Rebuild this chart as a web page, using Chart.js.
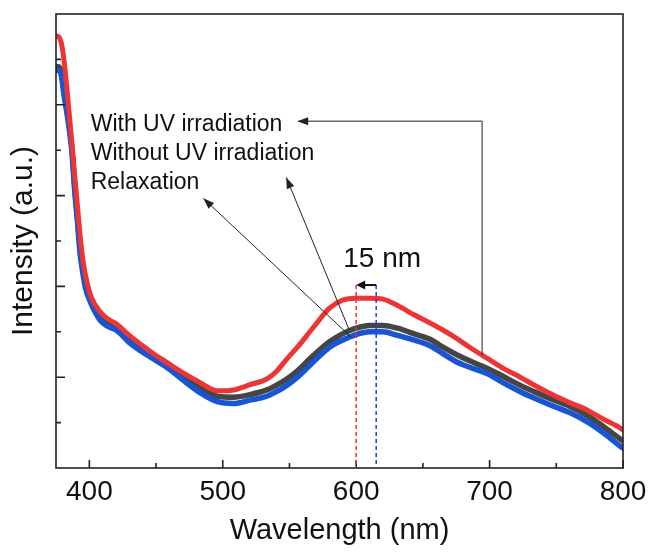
<!DOCTYPE html>
<html>
<head>
<meta charset="utf-8">
<script src="https://cdn.jsdelivr.net/npm/chart.js@4.4.0/dist/chart.umd.min.js"></script>
<style>
  html, body { margin: 0; padding: 0; background: #fff; }
</style>
</head>
<body>
<canvas id="plChart" width="650" height="553"></canvas>
<script>
// emission spectra
const wavelength = [375, 377, 379, 381, 384, 387, 389, 391, 393, 395, 397, 401, 408, 414, 420, 424, 430, 446, 458, 470,
  483, 496, 508, 521, 533, 540, 548, 556, 568, 580, 590, 600, 610, 620, 631, 643, 655, 665, 675, 685,
  698, 710, 723, 735, 748, 760, 773, 785, 798, 800];
const withUV = [4.76, 4.75, 4.68, 4.49, 4.05, 3.56, 3.23, 2.90, 2.57, 2.31, 2.13, 1.90, 1.72, 1.64, 1.59, 1.54, 1.46, 1.28, 1.16, 1.05,
  0.94, 0.85, 0.86, 0.92, 0.98, 1.06, 1.20, 1.33, 1.55, 1.76, 1.85, 1.87, 1.87, 1.86, 1.79, 1.69, 1.60, 1.52, 1.43, 1.33,
  1.21, 1.10, 1.00, 0.90, 0.80, 0.72, 0.64, 0.54, 0.44, 0.42];
const withoutUV = [4.42, 4.42, 4.36, 4.15, 3.87, 3.51, 3.10, 2.77, 2.41, 2.20, 2.03, 1.86, 1.67, 1.60, 1.56, 1.51, 1.42, 1.26, 1.16, 1.02,
  0.88, 0.79, 0.78, 0.81, 0.86, 0.91, 0.98, 1.07, 1.24, 1.39, 1.48, 1.54, 1.57, 1.57, 1.54, 1.48, 1.42, 1.33, 1.25, 1.18,
  1.10, 1.01, 0.91, 0.83, 0.75, 0.68, 0.58, 0.46, 0.32, 0.30];
const relaxation = [4.38, 4.38, 4.32, 4.11, 3.83, 3.47, 3.06, 2.73, 2.37, 2.16, 1.99, 1.82, 1.63, 1.56, 1.52, 1.47, 1.38, 1.22, 1.11, 0.97,
  0.83, 0.73, 0.71, 0.75, 0.79, 0.84, 0.91, 1.00, 1.17, 1.33, 1.41, 1.47, 1.50, 1.50, 1.46, 1.41, 1.35, 1.26, 1.17, 1.11,
  1.04, 0.94, 0.84, 0.76, 0.68, 0.61, 0.51, 0.39, 0.24, 0.22];

const seriesNames = ['With UV irradiation', 'Without UV irradiation', 'Relaxation'];
const xTicks = [400, 500, 600, 700, 800];
const xMinorTicks = [450, 550, 650, 750];
const yTicks = [1, 2, 3, 4];
const yMinorTicks = [0.5, 1.5, 2.5, 3.5, 4.5];
const peakWith = 600;
const peakWithout = 615;

const FONT = '"Liberation Sans", Arial, sans-serif';
Chart.defaults.font.family = FONT;
Chart.defaults.color = '#111';

function pts(ys) {
  return wavelength.map((w, i) => ({ x: w, y: ys[i] }));
}

function arrowHead(ctx, x1, y1, x2, y2, len, half) {
  const a = Math.atan2(y2 - y1, x2 - x1);
  ctx.beginPath();
  ctx.moveTo(x2, y2);
  ctx.lineTo(x2 - len * Math.cos(a) + half * Math.sin(a), y2 - len * Math.sin(a) - half * Math.cos(a));
  ctx.lineTo(x2 - len * Math.cos(a) - half * Math.sin(a), y2 - len * Math.sin(a) + half * Math.cos(a));
  ctx.closePath();
  ctx.fill();
}

// box + inward ticks
const framePlugin = {
  id: 'frame',
  afterDatasetsDraw(chart) {
    const { ctx, chartArea: a, scales: { x, y } } = chart;
    ctx.save();
    ctx.strokeStyle = '#222';
    ctx.lineWidth = 1.6;
    ctx.strokeRect(a.left, a.top, a.right - a.left, a.bottom - a.top);
    ctx.beginPath();
    xTicks.forEach(v => { const p = x.getPixelForValue(v); ctx.moveTo(p, a.bottom); ctx.lineTo(p, a.bottom - 8); });
    xMinorTicks.forEach(v => { const p = x.getPixelForValue(v); ctx.moveTo(p, a.bottom); ctx.lineTo(p, a.bottom - 5); });
    yTicks.forEach(v => { const p = y.getPixelForValue(v); ctx.moveTo(a.left, p); ctx.lineTo(a.left + 9, p); });
    yMinorTicks.forEach(v => { const p = y.getPixelForValue(v); ctx.moveTo(a.left, p); ctx.lineTo(a.left + 5, p); });
    ctx.stroke();
    ctx.restore();
  }
};

// labels, arrows and the 15 nm shift marker
const notesPlugin = {
  id: 'notes',
  afterDatasetsDraw(chart) {
    const { ctx, scales: { x, y } } = chart;
    const X = v => x.getPixelForValue(v);
    const Y = v => y.getPixelForValue(v);
    ctx.save();

    ctx.font = '23px ' + FONT;
    ctx.fillStyle = '#111';
    ctx.textAlign = 'left';
    ctx.textBaseline = 'alphabetic';
    ctx.fillText(seriesNames[0], X(401), Y(3.71));
    ctx.fillText(seriesNames[1], X(401), Y(3.39));
    ctx.fillText(seriesNames[2], X(401), Y(3.07));

    ctx.strokeStyle = '#222';
    ctx.fillStyle = '#222';
    ctx.lineWidth = 1;
    // with UV: elbow arrow
    ctx.beginPath();
    ctx.moveTo(X(694.4), Y(1.245));
    ctx.lineTo(X(694.4), Y(3.82));
    ctx.lineTo(X(557), Y(3.82));
    ctx.stroke();
    arrowHead(ctx, X(694.4), Y(3.82), X(555.8), Y(3.82), 11, 4);
    // without UV
    ctx.beginPath();
    ctx.moveTo(X(594.8), Y(1.52));
    ctx.lineTo(X(547.6), Y(3.20));
    ctx.stroke();
    arrowHead(ctx, X(594.8), Y(1.52), X(547.6), Y(3.20), 11, 4);
    // relaxation
    ctx.beginPath();
    ctx.moveTo(X(596.3), Y(1.44));
    ctx.lineTo(X(485.4), Y(2.97));
    ctx.stroke();
    arrowHead(ctx, X(596.3), Y(1.44), X(485.4), Y(2.97), 11, 4);

    // dashed peak markers
    ctx.lineWidth = 1.5;
    ctx.setLineDash([4, 3]);
    ctx.strokeStyle = '#e8332f';
    ctx.beginPath();
    ctx.moveTo(X(peakWith), Y(2.015));
    ctx.lineTo(X(peakWith), Y(0));
    ctx.stroke();
    ctx.strokeStyle = '#1f3fd8';
    ctx.beginPath();
    ctx.moveTo(X(peakWithout), Y(2.015));
    ctx.lineTo(X(peakWithout), Y(0));
    ctx.stroke();
    ctx.setLineDash([]);

    // shift arrow
    ctx.strokeStyle = '#111';
    ctx.fillStyle = '#111';
    ctx.lineWidth = 2;
    ctx.beginPath();
    ctx.moveTo(X(peakWithout), Y(2.015));
    ctx.lineTo(X(peakWith) + 6, Y(2.015));
    ctx.stroke();
    arrowHead(ctx, X(peakWithout), Y(2.015), X(peakWith), Y(2.015), 9, 4.5);

    ctx.font = '28px ' + FONT;
    ctx.textAlign = 'center';
    ctx.fillText((peakWithout - peakWith) + ' nm', X(619.5), Y(2.21));
    ctx.restore();
  }
};

const chartData = {
  datasets: [
    { label: seriesNames[0], data: pts(withUV), borderColor: '#ee3535', borderWidth: 5 },
    { label: seriesNames[2], data: pts(relaxation), borderColor: '#1755d3', borderWidth: 5.5 },
    { label: seriesNames[1], data: pts(withoutUV), borderColor: '#454545', borderWidth: 5.5 }
  ]
};

const config = {
  type: 'line',
  data: chartData,
  options: {
    responsive: false,
    animation: false,
    layout: { padding: { top: 14, right: 27, left: 0, bottom: 0 } },
    elements: {
      point: { radius: 0 },
      line: { cubicInterpolationMode: 'monotone', borderCapStyle: 'round', borderJoinStyle: 'round' }
    },
    plugins: {
      legend: { display: false },
      tooltip: { enabled: false }
    },
    scales: {
      x: {
        type: 'linear',
        min: 375,
        max: 800,
        afterBuildTicks: (scale) => { scale.ticks = xTicks.map(v => ({ value: v })); },
        afterFit: (scale) => { scale.height = 85; scale.paddingLeft = 0; scale.paddingRight = 0; },
        grid: { display: false, drawTicks: false },
        border: { display: false },
        ticks: { font: { size: 28 }, color: '#111', padding: 7, maxRotation: 0 },
        title: { display: true, text: 'Wavelength (nm)', font: { size: 29 }, color: '#111', padding: { top: 0, bottom: 5 } }
      },
      y: {
        min: 0,
        max: 5,
        afterFit: (scale) => { scale.width = 56; scale.paddingTop = 0; scale.paddingBottom = 0; },
        grid: { display: false, drawTicks: false },
        border: { display: false },
        ticks: { display: false },
        title: { display: true, text: 'Intensity (a.u.)', font: { size: 30 }, color: '#111', padding: { top: 6, bottom: 0 } }
      }
    }
  },
  plugins: [framePlugin, notesPlugin]
};

const plChart = new Chart(document.getElementById('plChart'), config);
</script>
</body>
</html>
